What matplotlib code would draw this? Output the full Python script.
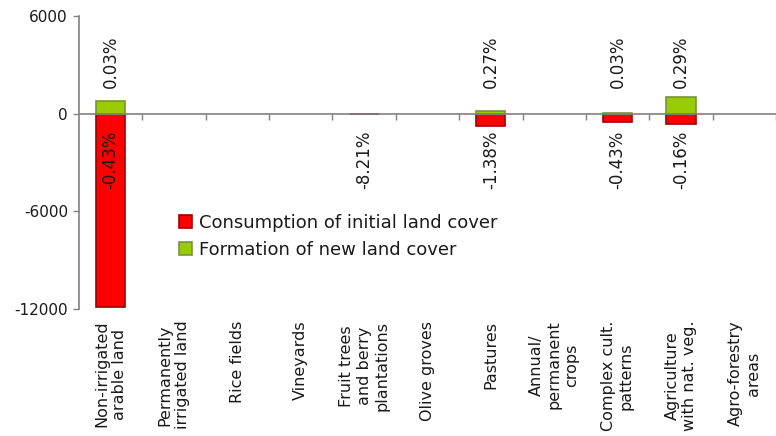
import matplotlib
matplotlib.use("Agg")
from matplotlib import pyplot as plt
import matplotlib.transforms as mtransforms

categories = [
    "Non-irrigated\narable land",
    "Permanently\nirrigated land",
    "Rice fields",
    "Vineyards",
    "Fruit trees\nand berry\nplantations",
    "Olive groves",
    "Pastures",
    "Annual/\npermanent\ncrops",
    "Complex cult.\npatterns",
    "Agriculture\nwith nat. veg.",
    "Agro-forestry\nareas",
]
consumption = [-11900, 0, 0, 0, -20, 0, -730, 0, -490, -630, 0]
formation = [750, 0, 0, 0, 0, 0, 180, 0, 20, 1020, 0]
consumption_pct = ["-0.43%", None, None, None, "-8.21%", None, "-1.38%", None, "-0.43%", "-0.16%", None]
formation_pct = ["0.03%", None, None, None, None, None, "0.27%", None, "0.03%", "0.29%", None]

plt.rcParams['font.family'] = ['DejaVu Sans']
text_col = '#1a1a1a'
axis_col = '#808080'

fig = plt.figure(figsize=(7.76, 4.36), dpi=100)
ax = fig.add_axes([79/776, 1 - 309/436, 697/776, 293/436])

x = list(range(len(categories)))
# no outline for empty bars
red_edges = ['#a00000' if v != 0 else 'none' for v in consumption]
green_edges = ['#77933c' if v != 0 else 'none' for v in formation]
ax.bar(x, consumption, width=0.46, color='#ff0000', edgecolor=red_edges,
       linewidth=1.2, label='Consumption of initial land cover', zorder=2)
ax.bar(x, formation, width=0.46, color='#99cc00', edgecolor=green_edges,
       linewidth=1.2, label='Formation of new land cover', zorder=2)

ax.set_xlim(-0.5, len(categories) - 0.5)
ax.set_ylim(-12000, 6000)
ax.set_yticks([6000, 0, -6000, -12000])
ax.set_yticklabels(['6000', '0', '-6000', '-12000'])

for s in ['top', 'right']:
    ax.spines[s].set_visible(False)
ax.spines['bottom'].set_position(('data', 0))
ax.spines['bottom'].set_color(axis_col)
ax.spines['left'].set_color(axis_col)
ax.spines['bottom'].set_linewidth(1.2)
ax.spines['left'].set_linewidth(1.2)
ax.spines['bottom'].set_zorder(3)

ax.set_xticks([i + 0.5 for i in x])
ax.set_xticklabels([])
ax.tick_params(axis='x', direction='out', length=4, color=axis_col, width=1)
ax.tick_params(axis='y', direction='out', length=4, color=axis_col, width=1,
               labelsize=11, labelcolor=text_col, pad=4)

# category labels at the bottom of the plot area
trans = mtransforms.blended_transform_factory(ax.transData, ax.transAxes)
for i, name in enumerate(categories):
    ax.text(i, -0.04, name, transform=trans, rotation=90, ha='center', va='top',
            fontsize=11.5, color=text_col, multialignment='center', linespacing=1.2)

# percentage labels
for i, p in enumerate(consumption_pct):
    if p:
        ax.annotate(p, xy=(i, 0), xytext=(0, -12), textcoords='offset points',
                    rotation=90, ha='center', va='top', fontsize=12, color=text_col)
for i, p in enumerate(formation_pct):
    if p:
        ax.text(i, max(formation[i] + 400, 1600), p, rotation=90, ha='center',
                va='bottom', fontsize=12, color=text_col)

ax.legend(loc='upper left', bbox_to_anchor=(0.12, 0.38), frameon=False,
          fontsize=13, handlelength=0.7, handleheight=0.7, handletextpad=0.4,
          labelspacing=0.5, labelcolor=text_col)

fig.savefig('out.png', dpi=100)
